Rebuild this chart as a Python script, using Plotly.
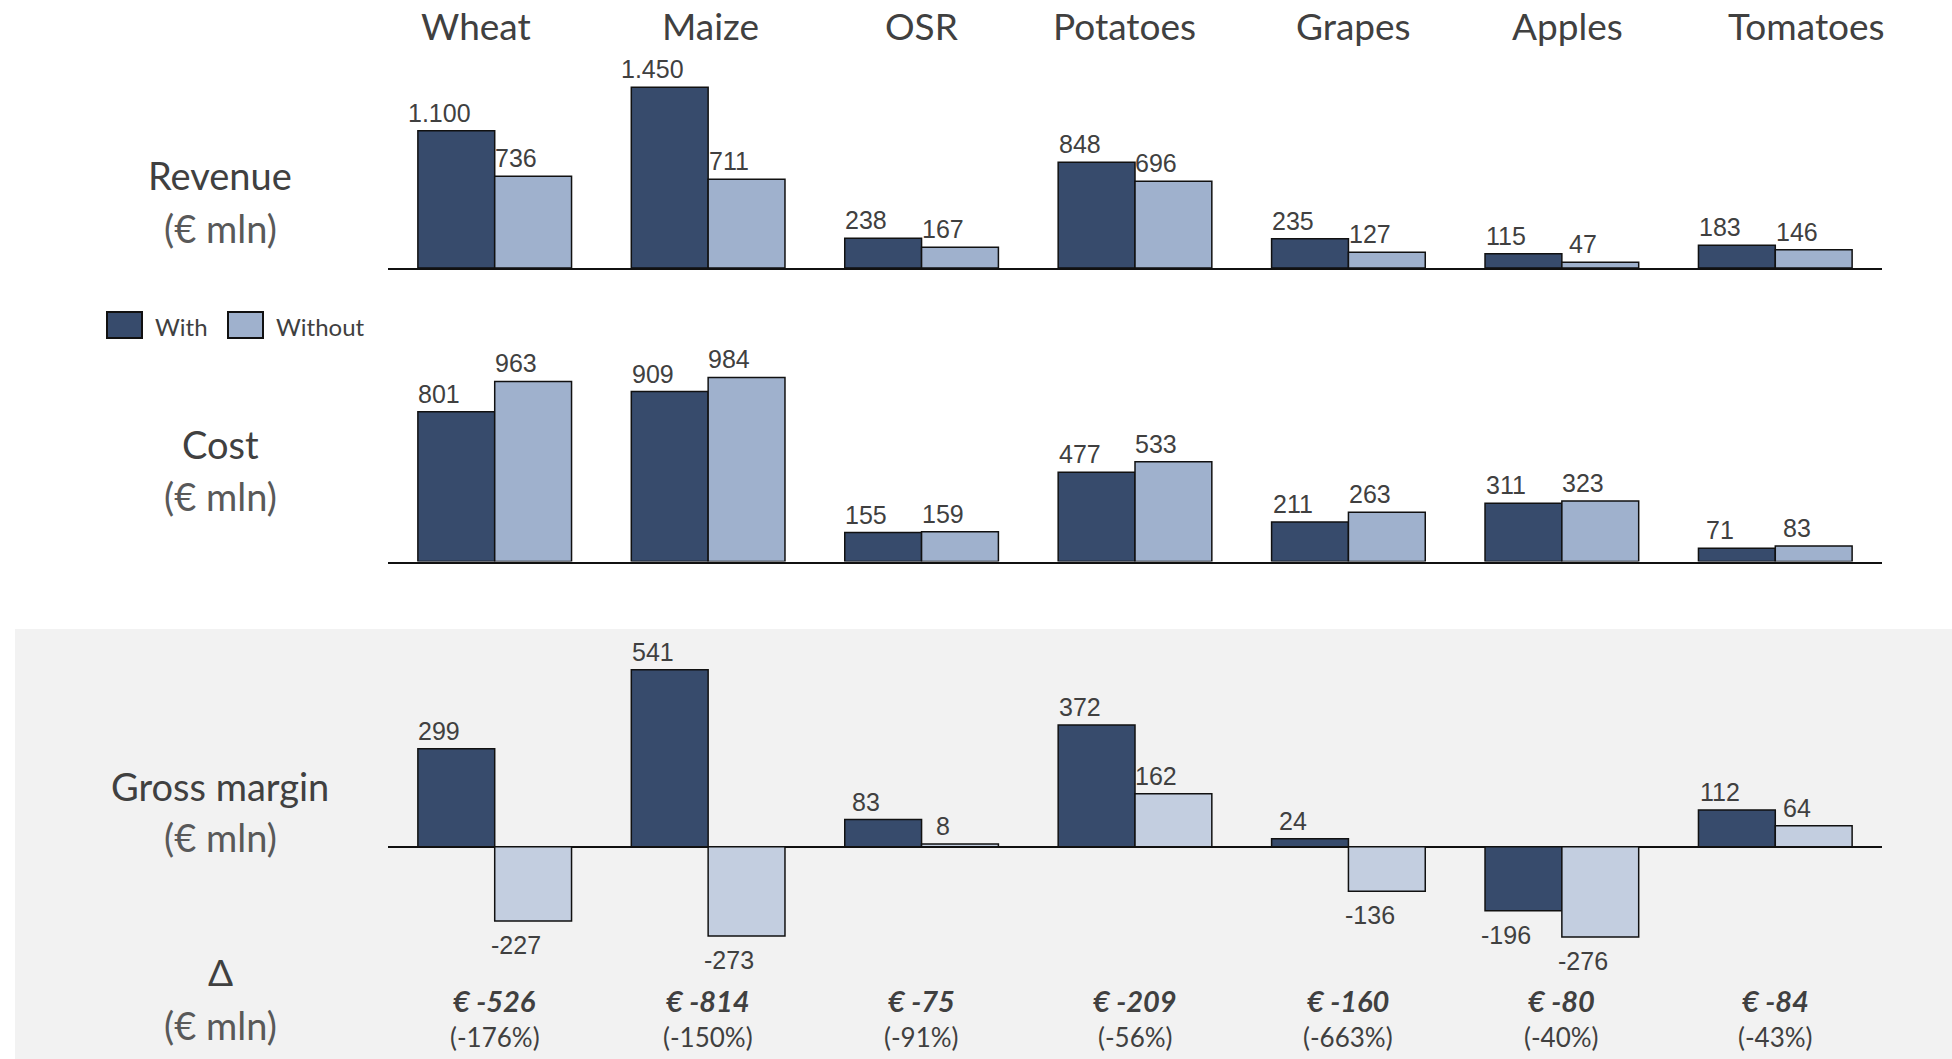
import plotly.graph_objects as go

# ---------------- data ----------------
crops = ["Wheat", "Maize", "OSR", "Potatoes", "Grapes", "Apples", "Tomatoes"]
revenue_with = [1100, 1450, 238, 848, 235, 115, 183]
revenue_without = [736, 711, 167, 696, 127, 47, 146]
cost_with = [801, 909, 155, 477, 211, 311, 71]
cost_without = [963, 984, 159, 533, 263, 323, 83]
margin_with = [299, 541, 83, 372, 24, -196, 112]
margin_without = [-227, -273, 8, 162, -136, -276, 64]
delta_labels = ["€ -526", "€ -814", "€ -75", "€ -209", "€ -160", "€ -80", "€ -84"]
delta_pct_labels = ["(-176%)", "(-150%)", "(-91%)", "(-56%)", "(-663%)", "(-40%)", "(-43%)"]
row_titles = ["Revenue", "Cost", "Gross margin"]
unit_label = "(€ mln)"
series_names = ["With", "Without"]

# ---------------- style ----------------
W, H = 1952, 1059
C_WITH = "#374b6c"
C_WITHOUT = "#9fb1cd"
C_WITHOUT_GM = "#c3cee0"
C_BG = "#f2f2f2"
C_TEXT = "#404040"
C_UNIT = "#595959"
C_EDGE = "#111111"
TITLE_FONT = "Lato, Open Sans, sans-serif"
VALUE_FONT = "Liberation Sans, Arial, sans-serif"
BAR_W = 0.36  # width of each bar in category units (bargap 0.28)
title_xshift = [-19, 2, 0, -11, 5, 6, 31]


def py(pix):
    """pixel from top -> paper fraction"""
    return 1 - pix / H


def px(pix):
    return pix / W


x_dom = [px(388), px(1882)]
x_rng = [-0.5, 6.5]

panels = [
    dict(w=revenue_with, wo=revenue_without, c_wo=C_WITHOUT, rng=[0, 1500], dom=[py(268), py(81)]),
    dict(w=cost_with, wo=cost_without, c_wo=C_WITHOUT, rng=[0, 1000], dom=[py(561.5), py(374.5)]),
    dict(w=margin_with, wo=margin_without, c_wo=C_WITHOUT_GM, rng=[-300, 600], dom=[py(944.8), py(650.4)]),
]

fig = go.Figure()
idx = list(range(len(crops)))
annotations = []

for p_i, p in enumerate(panels):
    sfx = "" if p_i == 0 else str(p_i + 1)
    for s_i, (vals, col) in enumerate([(p["w"], C_WITH), (p["wo"], p["c_wo"])]):
        fig.add_trace(go.Bar(
            x=idx, y=vals, name=series_names[s_i],
            marker=dict(color=col, line=dict(color=C_EDGE, width=1.5)),
            xaxis="x" + sfx, yaxis="y" + sfx,
            showlegend=False,
            hoverinfo="skip",
        ))
        for i, v in enumerate(vals):
            left = i - BAR_W if s_i == 0 else i
            txt = f"{v:,}".replace(",", ".")
            annotations.append(dict(
                x=left + 0.1, y=v, xref="x" + sfx, yref="y" + sfx,
                text=txt, showarrow=False, xanchor="center",
                yanchor="bottom" if v >= 0 else "top",
                yshift=2 if v >= 0 else -8,
                font=dict(family=VALUE_FONT, size=25, color=C_TEXT),
            ))

layout_axes = {}
for p_i, p in enumerate(panels):
    sfx = "" if p_i == 0 else str(p_i + 1)
    layout_axes["xaxis" + sfx] = dict(
        domain=x_dom, range=x_rng, anchor="y" + sfx,
        showticklabels=False, ticks="", showgrid=False, zeroline=False,
        showline=(p_i < 2), linecolor=C_EDGE, linewidth=2,
    )
    layout_axes["yaxis" + sfx] = dict(
        domain=p["dom"], range=p["rng"], anchor="x" + sfx,
        showticklabels=False, ticks="", showgrid=False,
        zeroline=(p_i == 2), zerolinecolor=C_EDGE, zerolinewidth=2,
        showline=False,
    )

# Category titles
for i, c in enumerate(crops):
    annotations.append(dict(
        x=i, y=py(25), xref="x", yref="paper", text=c, showarrow=False,
        xanchor="center", yanchor="middle", xshift=title_xshift[i],
        font=dict(family=TITLE_FONT, size=37, color=C_TEXT),
    ))

# Row labels
row_label_x = px(220)
row_y = [(175.5, 228), (444.5, 495.5), (785.6, 836.6)]
for t, (y1, y2) in zip(row_titles, row_y):
    annotations.append(dict(x=row_label_x, y=py(y1), xref="paper", yref="paper", text=t,
                            showarrow=False, xanchor="center", yanchor="middle",
                            font=dict(family=TITLE_FONT, size=38, color=C_TEXT)))
    annotations.append(dict(x=row_label_x, y=py(y2), xref="paper", yref="paper", text=unit_label,
                            showarrow=False, xanchor="center", yanchor="middle",
                            font=dict(family=TITLE_FONT, size=38, color=C_UNIT)))
# Delta row label
annotations.append(dict(x=row_label_x, y=py(971), xref="paper", yref="paper", text="Δ",
                        showarrow=False, xanchor="center", yanchor="middle",
                        font=dict(family=TITLE_FONT, size=37, color=C_TEXT)))
annotations.append(dict(x=row_label_x, y=py(1024.6), xref="paper", yref="paper", text=unit_label,
                        showarrow=False, xanchor="center", yanchor="middle",
                        font=dict(family=TITLE_FONT, size=38, color=C_UNIT)))

# Delta values
for i in idx:
    annotations.append(dict(x=i, y=py(1000), xref="x3", yref="paper",
                            text=f"<b><i>{delta_labels[i]}</i></b>", showarrow=False,
                            xanchor="center", yanchor="middle",
                            font=dict(family=TITLE_FONT, size=29, color=C_TEXT)))
    annotations.append(dict(x=i, y=py(1037), xref="x3", yref="paper",
                            text=delta_pct_labels[i], showarrow=False,
                            xanchor="center", yanchor="middle",
                            font=dict(family=TITLE_FONT, size=26, color=C_TEXT)))

# Legend (large keys like the reference)
legend_keys = [(px(106), C_WITH, px(153)), (px(227), C_WITHOUT, px(274))]
for (kx, kcol, tx), name in zip(legend_keys, series_names):
    annotations.append(dict(x=kx, y=py(325), xref="paper", yref="paper", text=" ",
                            showarrow=False, xanchor="left", yanchor="middle",
                            width=33, height=24, bgcolor=kcol, bordercolor=C_EDGE,
                            borderwidth=2, borderpad=0))
    annotations.append(dict(x=tx, y=py(326), xref="paper", yref="paper", text=name,
                            showarrow=False, xanchor="left", yanchor="middle",
                            font=dict(family=TITLE_FONT, size=24, color=C_TEXT)))

fig.update_layout(
    width=W, height=H, margin=dict(l=0, r=0, t=0, b=0),
    paper_bgcolor="white", plot_bgcolor="rgba(0,0,0,0)",
    barmode="group", bargap=0.28, bargroupgap=0,
    showlegend=False,
    annotations=annotations,
    shapes=[dict(type="rect", xref="paper", yref="paper", x0=px(15), x1=1, y0=0, y1=py(629),
                 fillcolor=C_BG, line=dict(width=0), layer="below")],
    **layout_axes,
)

fig.write_html("out.html", config={"displayModeBar": False},
               post_script="document.body.style.margin='0';document.body.style.overflow='hidden';")
